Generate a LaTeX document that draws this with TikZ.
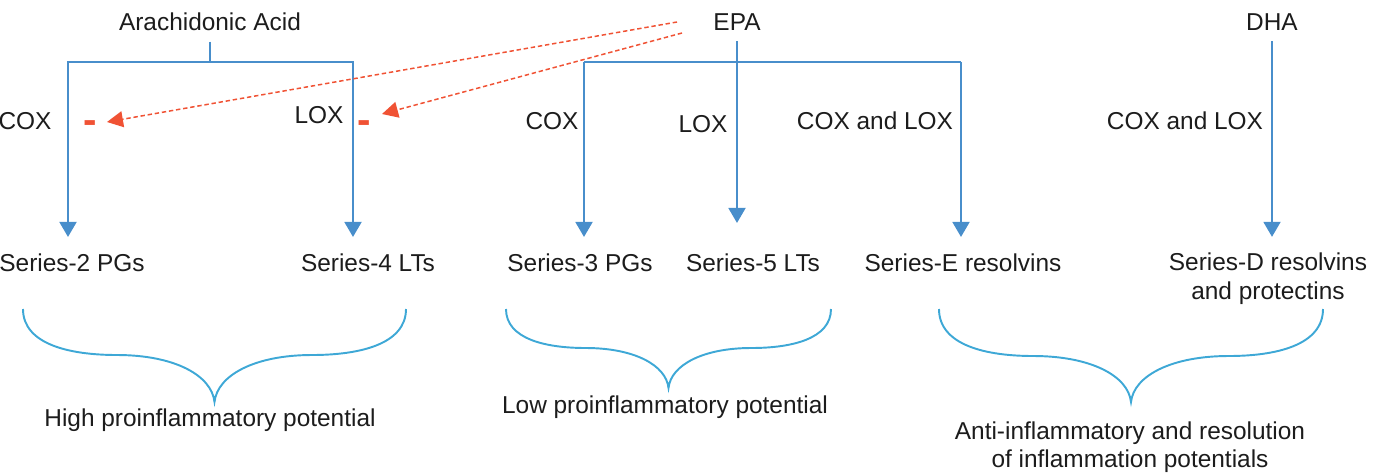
\documentclass[tikz,border=0pt]{standalone}
\usepackage{fontspec}
\setmainfont{Liberation Sans}
\usetikzlibrary{arrows.meta}
\definecolor{flowblue}{RGB}{72,142,203}
\definecolor{braceblue}{RGB}{62,168,214}
\definecolor{inhibred}{RGB}{240,82,52}
\definecolor{textgray}{RGB}{28,28,28}

\newcommand{\potbrace}[4]{% left x, right x, shoulder y, tip y
  \pgfmathsetmacro{\bmid}{(#1+#2)/2}
  \pgfmathsetmacro{\bhalf}{(#2-#1)/2}
  \draw[brc] (#1,309) .. controls (#1,{309+0.77*(#3-309)}) and ({#1+0.245*\bhalf},#3) .. ({#1+0.49*\bhalf},#3)
    .. controls ({#1+0.79*\bhalf},#3) and ({\bmid-0.015*\bhalf},{#3+0.43*(#4-#3)}) .. (\bmid,#4)
    .. controls ({\bmid+0.015*\bhalf},{#3+0.43*(#4-#3)}) and ({#2-0.79*\bhalf},#3) .. ({#2-0.49*\bhalf},#3)
    .. controls ({#2-0.245*\bhalf},#3) and (#2,{309+0.77*(#3-309)}) .. (#2,309);
}

\begin{document}
\begin{tikzpicture}[x=0.02cm,y=-0.02cm,
  lbl/.style={text=textgray,font=\fontsize{13.9}{16}\selectfont,inner sep=2pt,anchor=base},
  src/.style={lbl,outer sep=4.5pt},
  block/.style={lbl,text=inhibred,font=\fontsize{23}{23}\selectfont\bfseries},
  flow/.style={flowblue,line width=1.1pt},
  flowarr/.style={flow,-{Triangle[length=0.3cm,width=0.34cm]},shorten >=0.25cm},
  inhib/.style={inhibred,line width=0.85pt,dash pattern=on 2.5pt off 1.6pt,-{Triangle[length=0.32cm,width=0.32cm]}},
  brc/.style={braceblue,line width=1.1pt}]

\useasboundingbox (0,0) rectangle (1387,474);

% precursors
\node[src] (aa) at (210,30) {Arachidonic Acid};
\node[src] (epa) at (737,30) {EPA};
\node[src] (dha) at (1272,30) {DHA};

% enzymes
\node[lbl] (coxA) at (25,129) {COX};
\node[lbl] (loxA) at (319,123) {LOX};
\node[block] (dashL) at (90.5,133) {-};
\node[block] (dashR) at (364,133) {-};
\node[lbl] (coxE) at (552,129) {COX};
\node[lbl] (loxE) at (703,132) {LOX};
\node[lbl] (coxloxE) at (875,129) {COX and LOX};
\node[lbl] (coxloxD) at (1185,129) {COX and LOX};

% products
\node[lbl] (s2pg) at (72,271) {Series-2 PGs};
\node[lbl] (s4lt) at (368,271) {Series-4 LTs};
\node[lbl] (s3pg) at (580,271) {Series-3 PGs};
\node[lbl] (s5lt) at (753,271) {Series-5 LTs};
\node[lbl] (seres) at (963,271) {Series-E resolvins};
\node[lbl,align=center] (sdres) at (1268,299) {Series-D resolvins\\and protectins};

% effects
\node[lbl] (high) at (210,426) {High proinflammatory potential};
\node[lbl] (low) at (665,413) {Low proinflammatory potential};
\node[lbl,align=center] (anti) at (1130,467.5) {Anti-inflammatory and resolution\\of inflammation potentials};

\coordinate (aaJ) at (210,62);
\coordinate (aaL) at (68,62);
\coordinate (aaR) at (353,62);
\coordinate (epaL) at (584,62);
\coordinate (epaR) at (961,62);
\coordinate (epaA) at (677,22);
\coordinate (epaB) at (682,33);
\coordinate (tipL) at (107,122);
\coordinate (tipR) at (382,114);

\draw[flow] (aa) -- (aaJ);
\draw[flowarr] (aaJ) -| (aaL |- s2pg.north);
\draw[flowarr] (aaJ) -| (aaR |- s4lt.north);
\draw[flow] (epaL) -- (epaR);
\draw[flowarr] (epaL) -- (epaL |- s3pg.north);
\draw[flowarr] (epaR) -- (epaR |- seres.north);
\draw[flowarr,shorten >=0.53cm] (epa) -- (epa.south |- s5lt.north);
\draw[flowarr] (dha) -- (dha.south |- sdres.north);

\draw[inhib] (epaA) -- (tipL);
\draw[inhib] (epaB) -- (tipR);

\potbrace{23}{406}{355}{402}
\potbrace{506}{831}{348}{388}
\potbrace{939}{1323}{356}{402}
\end{tikzpicture}
\end{document}
